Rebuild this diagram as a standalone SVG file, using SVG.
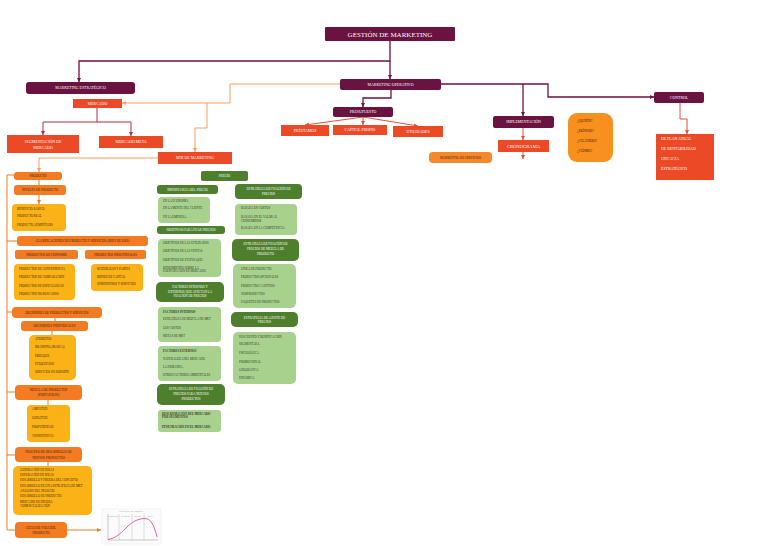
<svg xmlns="http://www.w3.org/2000/svg" width="768" height="546" viewBox="0 0 768 546">
<defs>
<style>
text{font-family:"Liberation Serif","DejaVu Serif",serif}
.w{fill:#fff}
.d{fill:#3b2a12}
.o{fill:#4a1e08}
.g{fill:#2f3d1e}
.c{text-anchor:middle}
.t7{font-size:7px}
.t5{font-size:4.6px}
.t4{font-size:3.9px}
.t3{font-size:3.2px}
.t2{font-size:3px}
.pur{fill:#6a1240}
.red{fill:#ec4a26}
.org{fill:#f37b21}
.yel{fill:#fbb217}
.dg{fill:#4d7f2c}
.lg{fill:#a9d18e}
.cp{stroke:#6a1240;stroke-width:1.3;fill:none}
.co{stroke:#f5a060;stroke-width:1;fill:none}
.cr{stroke:#e5503b;stroke-width:1;fill:none}
.cm{stroke:#b02f3a;stroke-width:1;fill:none}
.cl{stroke:#f37b21;stroke-width:1;fill:none}
</style>
<marker id="ap" markerUnits="userSpaceOnUse" markerWidth="4" markerHeight="4" refX="4" refY="2" orient="auto"><path d="M0,0 L4,2 L0,4 z" fill="#6a1240"/></marker>
<marker id="ao" markerUnits="userSpaceOnUse" markerWidth="4" markerHeight="4" refX="4" refY="2" orient="auto"><path d="M0,0 L4,2 L0,4 z" fill="#f5a060"/></marker>
<marker id="ar" markerUnits="userSpaceOnUse" markerWidth="4" markerHeight="4" refX="4" refY="2" orient="auto"><path d="M0,0 L4,2 L0,4 z" fill="#e5503b"/></marker>
<marker id="am" markerUnits="userSpaceOnUse" markerWidth="4" markerHeight="4" refX="4" refY="2" orient="auto"><path d="M0,0 L4,2 L0,4 z" fill="#b02f3a"/></marker>
<marker id="al" markerUnits="userSpaceOnUse" markerWidth="4" markerHeight="4" refX="4" refY="2" orient="auto"><path d="M0,0 L4,2 L0,4 z" fill="#f37b21"/></marker>
</defs>
<rect width="768" height="546" fill="#fff"/>

<g id="connectors">
<path class="cp" d="M390,41 V61 H79 V82" marker-end="url(#ap)"/>
<path class="cp" d="M390,61 V79" marker-end="url(#ap)"/>
<path class="cp" d="M441,84 H548 V97 H654" marker-end="url(#ap)"/>
<path class="cp" d="M523,84 V116" marker-end="url(#ap)"/>
<path class="cp" d="M391,90 V98 H363 V107" marker-end="url(#ap)"/>
<path class="cr" d="M363,117 L305,125" marker-end="url(#ar)"/>
<path class="cr" d="M363,117 V125" marker-end="url(#ar)"/>
<path class="cr" d="M363,117 L418,126" marker-end="url(#ar)"/>
<path class="cr" d="M523,128 V140" marker-end="url(#ar)"/>
<path class="cr" d="M523,152 V159" marker-end="url(#ar)"/>
<path class="cr" d="M680,103 V119 H687 V134" marker-end="url(#ar)"/>
<path class="co" d="M340,84 H230 V103 H122" marker-end="url(#ao)"/>
<path class="co" d="M207,103 V128 H195 V152" marker-end="url(#ao)"/>
<path class="co" d="M158,158 H39 V172" marker-end="url(#ao)"/>
<path class="cm" d="M97,108 V122 H43 V135" marker-end="url(#am)"/>
<path class="cm" d="M97,122 H131 V136" marker-end="url(#am)"/>
<path class="cl" d="M14,175 H7 V530 H15"/>
<path class="cl" d="M7,241 H17 M7,312 H12 M7,392 H15 M7,455 H15"/>
<path class="cl" d="M39,180 V185"/>
<path class="cl" d="M39,195 V204" marker-end="url(#al)"/>
<path class="cl" d="M55,318 V321 M52,331 V335 M48,400 V405 M48,462 V466"/>
<path class="cl" d="M67,530 H101" marker-end="url(#al)"/>
</g>

<g id="n-title"><rect class="pur" x="325" y="27" width="130" height="14" rx="1"/><text class="w c t7" x="390" y="36.5">GESTIÓN DE MARKETING</text></g>
<g id="n-mkt-estrategico"><rect class="pur" x="26" y="82" width="109" height="12" rx="3"/><text class="w c t4" x="80.5" y="89.4">MARKETING ESTRATÉGICO</text></g>
<g id="n-mkt-operativo"><rect class="pur" x="340" y="79" width="101" height="11" rx="2"/><text class="w c t4" x="390.5" y="85.9">MARKETING OPERATIVO</text></g>
<g id="n-presupuesto"><rect class="pur" x="333" y="107" width="60" height="10" rx="2"/><text class="w c t4" x="363" y="113.4">PRESUPUESTO</text></g>
<g id="n-prestamos"><rect class="red" x="281" y="125" width="48" height="11"/><text class="w c t4" x="305" y="131.9">PRÉSTAMOS</text></g>
<g id="n-capital"><rect class="red" x="333" y="125" width="54" height="10"/><text class="w c t4" x="360" y="131.4">CAPITAL PROPIO</text></g>
<g id="n-utilidades"><rect class="red" x="393" y="126" width="50" height="11"/><text class="w c t4" x="418" y="132.9">UTILIDADES</text></g>
<g id="n-implementacion"><rect class="pur" x="493" y="116" width="61" height="12" rx="2"/><text class="w c t4" x="523.5" y="123.4">IMPLEMENTACIÓN</text></g>
<g id="n-cronograma"><rect class="red" x="498" y="140" width="51" height="12"/><text class="w c t5" x="523.5" y="147.6">CRONOGRAMA</text></g>
<g id="n-mkt-servicios"><rect fill="#f5882a" x="429" y="152" width="63" height="11" rx="4"/><text class="o c t3" x="460.5" y="158.6">MARKETING DE SERVICIOS</text></g>
<g id="n-preguntas"><rect fill="#f7901e" x="568" y="113" width="45" height="49" rx="9"/>
<text class="o t4" x="577" y="122.3">¿QUIÉN?</text><text class="o t4" x="577" y="132.3">¿DÓNDE?</text><text class="o t4" x="577" y="142.3">¿CUÁNDO?</text><text class="o t4" x="577" y="152.3">¿CÓMO?</text></g>
<g id="n-control"><rect class="pur" x="654" y="92" width="50" height="11" rx="2"/><text class="w c t4" x="679" y="98.9">CONTROL</text></g>
<g id="n-control-tipos"><rect class="red" x="656" y="134" width="58" height="46"/>
<text class="w t4" x="661" y="140.3">DE PLAN ANUAL</text><text class="w t4" x="661" y="150.3">DE RENTABILIDAD</text><text class="w t4" x="661" y="160.3">EFICACIA</text><text class="w t4" x="661" y="170.3">ESTRATÉGICO</text></g>

<g id="n-mercado"><rect class="red" x="73" y="99" width="49" height="9"/><text class="w c t4" x="97.5" y="104.9">MERCADO</text></g>
<g id="n-segmentacion"><rect class="red" x="7" y="135" width="72" height="18"/><text class="w c t4" x="43" y="142.5">SEGMENTACIÓN DE</text><text class="w c t4" x="43" y="148.7">MERCADO</text></g>
<g id="n-mercado-meta"><rect class="red" x="99" y="136" width="64" height="12"/><text class="w c t4" x="131" y="143.4">MERCADO META</text></g>
<g id="n-mix"><rect class="red" x="158" y="152" width="74" height="12"/><text class="w c t4" x="195" y="159.4">MIX DE MARKETING</text></g>

<g id="n-producto"><rect class="org" x="14" y="172" width="48" height="8" rx="3"/><text class="o c t3" x="38" y="177.1">PRODUCTO</text></g>
<g id="n-niveles"><rect class="org" x="14" y="185" width="52" height="10" rx="3"/><text class="o c t3" x="40" y="191.1">NIVELES DE PRODUCTO</text></g>
<g id="n-niveles-lista"><rect class="yel" x="12" y="204" width="54" height="27" rx="4"/>
<text class="d t2" x="17" y="209.8">BENEFICIO BÁSICO</text><text class="d t2" x="17" y="217.3">PRODUCTO REAL</text><text class="d t2" x="17" y="225.6">PRODUCTO AUMENTADO</text></g>
<g id="n-clasificaciones"><rect class="org" x="17" y="236" width="131" height="10" rx="3"/><text class="o c t3" x="82.5" y="242.1">CLASIFICACIONES DE PRODUCTO Y SERVICIOS (BIEN DE USO)</text></g>
<g id="n-consumo"><rect class="org" x="15" y="250" width="63" height="9" rx="2"/><text class="o c t3" x="46.5" y="255.6">PRODUCTOS DE CONSUMO</text></g>
<g id="n-industriales"><rect class="org" x="85" y="250" width="61" height="9" rx="2"/><text class="o c t3" x="115.5" y="255.6">PRODUCTOS INDUSTRIALES</text></g>
<g id="n-consumo-lista"><rect class="yel" x="14" y="264" width="61" height="36" rx="4"/>
<text class="d t2" x="19" y="270">PRODUCTOS DE CONVENIENCIA</text><text class="d t2" x="19" y="278.3">PRODUCTOS DE COMPARACIÓN</text><text class="d t2" x="19" y="286.6">PRODUCTOS DE ESPECIALIDAD</text><text class="d t2" x="19" y="294.9">PRODUCTOS NO BUSCADOS</text></g>
<g id="n-industriales-lista"><rect class="yel" x="91" y="264" width="52" height="27" rx="4"/>
<text class="d t2" x="97" y="270">MATERIALES Y PARTES</text><text class="d t2" x="97" y="277.6">BIENES DE CAPITAL</text><text class="d t2" x="97" y="284.9">SUMINISTROS Y SERVICIOS</text></g>
<g id="n-decisiones"><rect class="org" x="12" y="307" width="90" height="11" rx="4"/><text class="o c t3" x="57" y="313.6">DECISIONES DE PRODUCTOS Y SERVICIOS</text></g>
<g id="n-decisiones-ind"><rect class="org" x="21" y="321" width="67" height="10" rx="3"/><text class="o c t3" x="54.5" y="327.1">DECISIONES INDIVIDUALES</text></g>
<g id="n-decisiones-lista"><rect class="yel" x="29" y="335" width="47" height="45" rx="5"/>
<text class="d t2" x="35" y="340">ATRIBUTOS</text><text class="d t2" x="35" y="348.2">BRANDING (MARCA)</text><text class="d t2" x="35" y="356.6">EMPAQUE</text><text class="d t2" x="35" y="364.9">ETIQUETADO</text><text class="d t2" x="35" y="373.2">SERVICIOS DE SOPORTE</text></g>
<g id="n-mezcla"><rect class="org" x="15" y="385" width="67" height="15" rx="4"/><text class="o c t3" x="48.5" y="391.3">MEZCLA DE PRODUCTOS</text><text class="o c t3" x="48.5" y="396.3">(PORTAFOLIO)</text></g>
<g id="n-mezcla-lista"><rect class="yel" x="27" y="405" width="43" height="37" rx="4"/>
<text class="d t2" x="32" y="410">AMPLITUD</text><text class="d t2" x="32" y="419">LONGITUD</text><text class="d t2" x="32" y="427.8">PROFUNDIDAD</text><text class="d t2" x="32" y="437">CONSISTENCIA</text></g>
<g id="n-proceso"><rect class="org" x="15" y="447" width="67" height="15" rx="4"/><text class="o c t3" x="48.5" y="453.3">PROCESO DE DESARROLLO DE</text><text class="o c t3" x="48.5" y="458.5">NUEVOS PRODUCTOS</text></g>
<g id="n-proceso-lista"><rect class="yel" x="13" y="466" width="79" height="49" rx="5"/>
<text class="d t2" x="20" y="471">GENERACIÓN DE IDEAS</text><text class="d t2" x="20" y="476">DEPURACIÓN DE IDEAS</text><text class="d t2" x="20" y="481">DESARROLLO Y PRUEBA DEL CONCEPTO</text><text class="d t2" x="20" y="486.5">DESARROLLO DE UNA ESTRATEGIA DE MKT</text><text class="d t2" x="20" y="491.6">ANÁLISIS DEL NEGOCIO</text><text class="d t2" x="20" y="496.7">DESARROLLO DE PRODUCTO</text><text class="d t2" x="20" y="502.6">MERCADO DE PRUEBA</text><text class="d t2" x="20" y="507.2">COMERCIALIZACIÓN</text></g>
<g id="n-ciclo"><rect class="org" x="15" y="522" width="52" height="16" rx="4"/><text class="o c t3" x="41" y="528.6">CICLO DE VIDA DEL</text><text class="o c t3" x="41" y="534">PRODUCTO</text></g>
<g id="n-ciclo-grafico">
<rect x="102" y="509" width="59" height="35" fill="#fbfbfb" stroke="#e4e4e4" stroke-width="0.4"/>
<text x="131" y="512" font-size="1.6" fill="#777" text-anchor="middle">CICLO DE VIDA DEL PRODUCTO</text>
<path d="M108,514 V540 H158" stroke="#777" stroke-width="0.4" fill="none"/>
<path d="M119,514 V540 M132,514 V540 M144,514 V540" stroke="#999" stroke-width="0.3" fill="none"/>
<text x="113.5" y="516.5" font-size="1.3" fill="#777" text-anchor="middle">INTRODUCCIÓN</text>
<text x="125.5" y="516.5" font-size="1.3" fill="#777" text-anchor="middle">CRECIMIENTO</text>
<text x="138" y="516.5" font-size="1.3" fill="#777" text-anchor="middle">MADUREZ</text>
<text x="150.5" y="516.5" font-size="1.3" fill="#777" text-anchor="middle">DECLIVE</text>
<path d="M108,539.5 C116,538 120,534 126,528 C132,522 137,519 144,518.5 C151,518 154,525 157,537" stroke="#d9539a" stroke-width="0.9" fill="none"/>
</g>

<g id="n-precio"><rect class="dg" x="201" y="171" width="47" height="10" rx="2"/><text class="w c t3" x="224.5" y="177.1">PRECIO</text></g>
<g id="n-importancia"><rect class="dg" x="157" y="185" width="61" height="9" rx="3"/><text class="w c t3" x="187.5" y="190.6">IMPORTANCIA DEL PRECIO</text></g>
<g id="n-importancia-lista"><rect class="lg" x="158" y="197" width="52" height="26" rx="4"/>
<text class="g t2" x="163" y="202">EN LA ECONOMÍA</text><text class="g t2" x="163" y="209.3">EN LA MENTE DEL CLIENTE</text><text class="g t2" x="163" y="217.8">EN LA EMPRESA</text></g>
<g id="n-objetivos"><rect class="dg" x="157" y="226" width="68" height="8" rx="3"/><text class="w c t3" x="191" y="231.1">OBJETIVOS PARA FIJAR PRECIOS</text></g>
<g id="n-objetivos-lista"><rect class="lg" x="158" y="239" width="63" height="38" rx="4"/>
<text class="g t2" x="163" y="244">OBJETIVOS DE LAS UTILIDADES</text><text class="g t2" x="163" y="252.2">OBJETIVOS DE LAS VENTAS</text><text class="g t2" x="163" y="261">OBJETIVOS DE STATUS QUO</text><text class="g t2" x="163" y="268.6">RENDIMIENTO SOBRE LA</text><text class="g t2" x="163" y="271.8">PARTICIPACIÓN DE MERCADO</text></g>
<g id="n-factores"><rect class="dg" x="156" y="282" width="68" height="20" rx="5"/><text class="w c t3" x="190" y="288.2">FACTORES INTERNOS Y</text><text class="w c t3" x="190" y="292.8">EXTERNOS QUE AFECTAN LA</text><text class="w c t3" x="190" y="297.4">FIJACIÓN DE PRECIOS</text></g>
<g id="n-factores-internos"><rect class="lg" x="158" y="307" width="63" height="35" rx="4"/>
<text class="g t2" x="163" y="313" font-weight="bold">FACTORES INTERNOS</text><text class="g t2" x="163" y="320.3">ESTRATEGIA DE MEZCLA DE MKT</text><text class="g t2" x="163" y="329">LOS COSTOS</text><text class="g t2" x="163" y="337.4">METAS DE MKT</text></g>
<g id="n-factores-externos"><rect class="lg" x="158" y="346" width="63" height="35" rx="4"/>
<text class="g t2" x="163" y="351.7" font-weight="bold">FACTORES EXTERNOS</text><text class="g t2" x="163" y="360">NATURALEZA DEL MERCADO</text><text class="g t2" x="163" y="368">LA DEMANDA</text><text class="g t2" x="163" y="376">OTROS FACTORES AMBIENTALES</text></g>
<g id="n-nuevos"><rect class="dg" x="157" y="384" width="68" height="21" rx="5"/><text class="w c t3" x="191" y="390.4">ESTRATEGIA DE FIJACIÓN DE</text><text class="w c t3" x="191" y="395">PRECIOS PARA NUEVOS</text><text class="w c t3" x="191" y="399.6">PRODUCTOS</text></g>
<g id="n-nuevos-lista"><rect class="lg" x="158" y="410" width="63" height="22" rx="3"/>
<text class="g t2" x="162" y="414.8" font-weight="bold">DESCREMACIÓN DEL MERCADO</text><text class="g t2" x="162" y="418.2" font-weight="bold">POR SEGMENTOS</text><text class="g t2" x="162" y="427.8" font-weight="bold">PENETRACIÓN EN EL MERCADO</text></g>
<g id="n-est-fijacion"><rect class="dg" x="235" y="184" width="67" height="15" rx="4"/><text class="w c t3" x="268.5" y="190.3">ESTRATEGIA DE FIJACIÓN DE</text><text class="w c t3" x="268.5" y="195.3">PRECIOS</text></g>
<g id="n-est-fijacion-lista"><rect class="lg" x="235" y="204" width="62" height="31" rx="4"/>
<text class="g t2" x="241" y="209">BASADA EN COSTOS</text><text class="g t2" x="241" y="217.6">BASADA EN EL VALOR AL</text><text class="g t2" x="241" y="221.6">CONSUMIDOR</text><text class="g t2" x="241" y="229">BASADA EN LA COMPETENCIA</text></g>
<g id="n-est-mezcla"><rect class="dg" x="232" y="239" width="67" height="22" rx="5"/><text class="w c t3" x="265.5" y="245.3">ESTRATEGIA DE FIJACIÓN DE</text><text class="w c t3" x="265.5" y="250.3">PRECIOS DE MEZCLA DE</text><text class="w c t3" x="265.5" y="255.3">PRODUCTO</text></g>
<g id="n-est-mezcla-lista"><rect class="lg" x="233" y="264" width="63" height="44" rx="5"/>
<text class="g t2" x="241" y="270">LÍNEA DE PRODUCTO</text><text class="g t2" x="241" y="278.2">PRODUCTOS OPCIONALES</text><text class="g t2" x="241" y="286.6">PRODUCTOS CAUTIVOS</text><text class="g t2" x="241" y="294.9">SUBPRODUCTOS</text><text class="g t2" x="241" y="302.6">PAQUETES DE PRODUCTOS</text></g>
<g id="n-ajuste"><rect class="dg" x="231" y="312" width="67" height="15" rx="5"/><text class="w c t3" x="264.5" y="318.6">ESTRATEGIA DE AJUSTE DE</text><text class="w c t3" x="264.5" y="323.4">PRECIOS</text></g>
<g id="n-ajuste-lista"><rect class="lg" x="233" y="332" width="63" height="52" rx="5"/>
<text class="g t2" x="239" y="337.8">DESCUENTO Y BONIFICACIÓN</text><text class="g t2" x="239" y="345.2">SEGMENTADA</text><text class="g t2" x="239" y="354">PSICOLÓGICA</text><text class="g t2" x="239" y="362.6">PROMOCIONAL</text><text class="g t2" x="239" y="370.8">GEOGRÁFICA</text><text class="g t2" x="239" y="379">DINÁMICA</text></g>
</svg>
